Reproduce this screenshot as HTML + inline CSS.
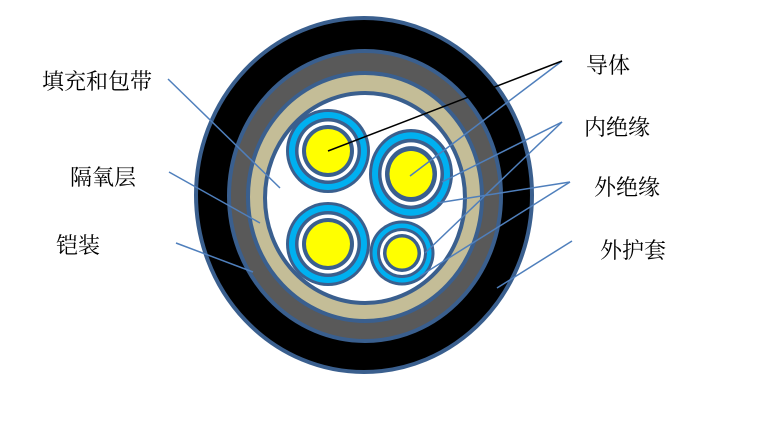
<!DOCTYPE html>
<html><head><meta charset="utf-8"><style>
html,body{margin:0;padding:0;background:#fff;width:773px;height:433px;overflow:hidden}
text{font-family:"Liberation Serif","Noto Serif CJK SC",serif;font-size:22px;fill:#000}
</style></head><body>
<svg width="773" height="433" viewBox="0 0 773 433" xmlns="http://www.w3.org/2000/svg">
<ellipse cx="364" cy="195" rx="168" ry="177" fill="#000" stroke="#3a5f8e" stroke-width="4"/>
<ellipse cx="365" cy="196" rx="136" ry="145" fill="#595959" stroke="#3a5f8e" stroke-width="4"/>
<ellipse cx="365" cy="197" rx="117" ry="124" fill="#c4bd97" stroke="#3a5f8e" stroke-width="4"/>
<ellipse cx="365" cy="198" rx="100" ry="105" fill="#fff" stroke="#3a5f8e" stroke-width="4"/>
<g transform="translate(328,151)">
<circle r="42" fill="#3a5f8e"/><circle r="39" fill="#00b0f0"/><circle r="33" fill="#3a5f8e"/><circle r="29.5" fill="#fff"/><circle r="26" fill="#3a5f8e"/><circle r="22" fill="#ff0"/></g>
<g transform="translate(411,174) scale(1,1.07)">
<circle r="42" fill="#3a5f8e"/><circle r="39" fill="#00b0f0"/><circle r="33" fill="#3a5f8e"/><circle r="29.5" fill="#fff"/><circle r="26" fill="#3a5f8e"/><circle r="21.5" fill="#ff0"/></g>
<g transform="translate(328,244)">
<circle r="42" fill="#3a5f8e"/><circle r="39" fill="#00b0f0"/><circle r="33" fill="#3a5f8e"/><circle r="29.5" fill="#fff"/><circle r="26" fill="#3a5f8e"/><circle r="22" fill="#ff0"/></g>
<g transform="translate(402,253)">
<circle r="32.5" fill="#3a5f8e"/><circle r="29.5" fill="#00b0f0"/><circle r="25" fill="#3a5f8e"/><circle r="22" fill="#fff"/><circle r="19" fill="#3a5f8e"/><circle r="15.5" fill="#ff0"/></g>
<g stroke="#4f7fbc" stroke-width="1.5" fill="none">
<line x1="168" y1="79" x2="280" y2="188"/>
<line x1="169" y1="172" x2="260" y2="223"/>
<line x1="176" y1="243" x2="253" y2="272"/>
<line x1="562" y1="61" x2="410" y2="176"/>
<line x1="562" y1="122" x2="442" y2="182"/>
<line x1="562" y1="122" x2="425" y2="253"/>
<line x1="570" y1="182" x2="437" y2="203"/>
<line x1="570" y1="182" x2="420" y2="276"/>
<line x1="572" y1="241" x2="497" y2="288"/>
</g>
<line x1="562" y1="61" x2="328" y2="151" stroke="#000" stroke-width="1.5"/>
<text x="42" y="89">填充和包带</text>
<text x="70" y="185">隔氧层</text>
<text x="56" y="253">铠装</text>
<text x="586" y="73">导体</text>
<text x="584" y="135">内绝缘</text>
<text x="594" y="195">外绝缘</text>
<text x="600" y="258">外护套</text>
</svg>
</body></html>
